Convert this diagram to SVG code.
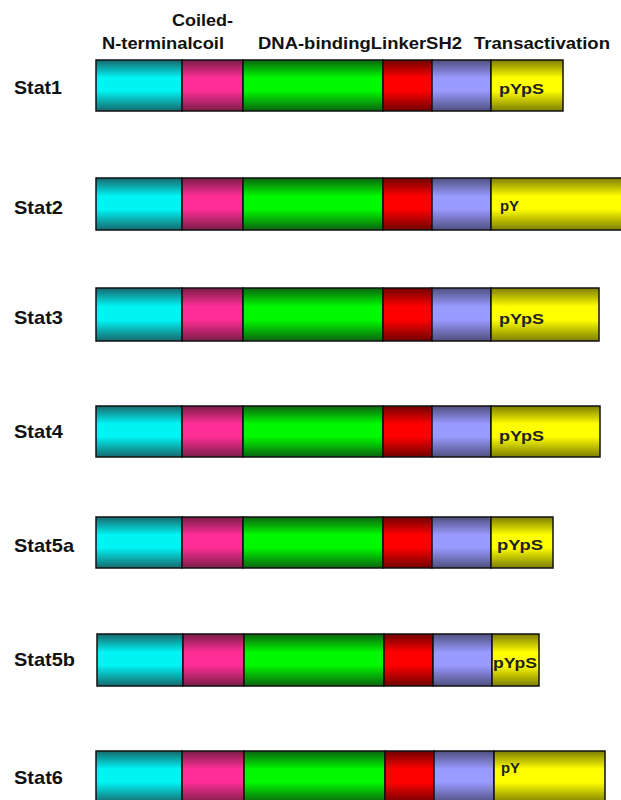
<svg xmlns="http://www.w3.org/2000/svg" width="621" height="800" viewBox="0 0 621 800">
  <defs>
    <!-- vertical shading: dark rim at top and bottom, bright band in the middle -->
    <linearGradient id="gCyan" x1="0" y1="0" x2="0" y2="1">
      <stop offset="0" stop-color="#16696e"/><stop offset="0.35" stop-color="#00f4f4"/><stop offset="0.6" stop-color="#00f4f4"/><stop offset="1" stop-color="#16696e"/>
    </linearGradient>
    <linearGradient id="gMag" x1="0" y1="0" x2="0" y2="1">
      <stop offset="0" stop-color="#7a1d48"/><stop offset="0.35" stop-color="#ff2e96"/><stop offset="0.6" stop-color="#ff2e96"/><stop offset="1" stop-color="#7a1d48"/>
    </linearGradient>
    <linearGradient id="gGreen" x1="0" y1="0" x2="0" y2="1">
      <stop offset="0" stop-color="#0b6410"/><stop offset="0.35" stop-color="#00f800"/><stop offset="0.6" stop-color="#00f800"/><stop offset="1" stop-color="#0b6410"/>
    </linearGradient>
    <linearGradient id="gRed" x1="0" y1="0" x2="0" y2="1">
      <stop offset="0" stop-color="#700000"/><stop offset="0.35" stop-color="#ff0000"/><stop offset="0.6" stop-color="#ff0000"/><stop offset="1" stop-color="#700000"/>
    </linearGradient>
    <linearGradient id="gLav" x1="0" y1="0" x2="0" y2="1">
      <stop offset="0" stop-color="#4f4f80"/><stop offset="0.35" stop-color="#9a9aff"/><stop offset="0.6" stop-color="#9a9aff"/><stop offset="1" stop-color="#4f4f80"/>
    </linearGradient>
    <linearGradient id="gYel" x1="0" y1="0" x2="0" y2="1">
      <stop offset="0" stop-color="#7d7d00"/><stop offset="0.35" stop-color="#ffff00"/><stop offset="0.6" stop-color="#ffff00"/><stop offset="1" stop-color="#7d7d00"/>
    </linearGradient>
  </defs>
  <style>
    rect { stroke: #111; stroke-width: 1.5; }
    .cy { fill: url(#gCyan); }
    .mg { fill: url(#gMag); }
    .gr { fill: url(#gGreen); }
    .rd { fill: url(#gRed); }
    .lv { fill: url(#gLav); }
    .yl { fill: url(#gYel); }
    text { font-family: "Liberation Sans", Arial, sans-serif; font-weight: bold; fill: #111; }
    .hdr { font-size: 16.5px; }
    .lbl { font-size: 19px; }
    .site { font-size: 15.5px; fill: #222; }
  </style>

  <!-- domain headings -->
  <g id="headers">
    <text class="hdr" x="172" y="26" textLength="61" lengthAdjust="spacingAndGlyphs">Coiled-</text>
    <text class="hdr" x="102" y="49" textLength="122" lengthAdjust="spacingAndGlyphs">N-terminalcoil</text>
    <text class="hdr" x="258" y="49" textLength="204" lengthAdjust="spacingAndGlyphs">DNA-bindingLinkerSH2</text>
    <text class="hdr" x="474" y="49" textLength="136" lengthAdjust="spacingAndGlyphs">Transactivation</text>
  </g>

  <!-- Stat1 -->
  <g id="stat1">
    <text class="lbl" x="14" y="94" textLength="48" lengthAdjust="spacingAndGlyphs">Stat1</text>
    <rect class="cy" x="96" y="60" width="86" height="51"/>
    <rect class="mg" x="182" y="60" width="61" height="51"/>
    <rect class="gr" x="243" y="60" width="140" height="51"/>
    <rect class="rd" x="383" y="60" width="49" height="51"/>
    <rect class="lv" x="432" y="60" width="59" height="51"/>
    <rect class="yl" x="491" y="60" width="72" height="51"/>
    <text class="site" x="499" y="94" textLength="45" lengthAdjust="spacingAndGlyphs">pYpS</text>
  </g>

  <!-- Stat2 -->
  <g id="stat2">
    <text class="lbl" x="14" y="214" textLength="49" lengthAdjust="spacingAndGlyphs">Stat2</text>
    <rect class="cy" x="96" y="178" width="86" height="52"/>
    <rect class="mg" x="182" y="178" width="61" height="52"/>
    <rect class="gr" x="243" y="178" width="140" height="52"/>
    <rect class="rd" x="383" y="178" width="49" height="52"/>
    <rect class="lv" x="432" y="178" width="59" height="52"/>
    <rect class="yl" x="491" y="178" width="140" height="52"/>
    <text class="site" x="500" y="211" textLength="19" lengthAdjust="spacingAndGlyphs">pY</text>
  </g>

  <!-- Stat3 -->
  <g id="stat3">
    <text class="lbl" x="14" y="324" textLength="49" lengthAdjust="spacingAndGlyphs">Stat3</text>
    <rect class="cy" x="96" y="288" width="86" height="53"/>
    <rect class="mg" x="182" y="288" width="61" height="53"/>
    <rect class="gr" x="243" y="288" width="140" height="53"/>
    <rect class="rd" x="383" y="288" width="49" height="53"/>
    <rect class="lv" x="432" y="288" width="59" height="53"/>
    <rect class="yl" x="491" y="288" width="108" height="53"/>
    <text class="site" x="499" y="324" textLength="45" lengthAdjust="spacingAndGlyphs">pYpS</text>
  </g>

  <!-- Stat4 -->
  <g id="stat4">
    <text class="lbl" x="14" y="438" textLength="49" lengthAdjust="spacingAndGlyphs">Stat4</text>
    <rect class="cy" x="96" y="406" width="86" height="51"/>
    <rect class="mg" x="182" y="406" width="61" height="51"/>
    <rect class="gr" x="243" y="406" width="140" height="51"/>
    <rect class="rd" x="383" y="406" width="49" height="51"/>
    <rect class="lv" x="432" y="406" width="59" height="51"/>
    <rect class="yl" x="491" y="406" width="109" height="51"/>
    <text class="site" x="499" y="441" textLength="45" lengthAdjust="spacingAndGlyphs">pYpS</text>
  </g>

  <!-- Stat5a -->
  <g id="stat5a">
    <text class="lbl" x="14" y="552" textLength="60" lengthAdjust="spacingAndGlyphs">Stat5a</text>
    <rect class="cy" x="96" y="517" width="86" height="51"/>
    <rect class="mg" x="182" y="517" width="61" height="51"/>
    <rect class="gr" x="243" y="517" width="140" height="51"/>
    <rect class="rd" x="383" y="517" width="49" height="51"/>
    <rect class="lv" x="432" y="517" width="59" height="51"/>
    <rect class="yl" x="491" y="517" width="62" height="51"/>
    <text class="site" x="497" y="550" textLength="46" lengthAdjust="spacingAndGlyphs">pYpS</text>
  </g>

  <!-- Stat5b -->
  <g id="stat5b">
    <text class="lbl" x="14" y="666" textLength="61" lengthAdjust="spacingAndGlyphs">Stat5b</text>
    <rect class="cy" x="97" y="634" width="86" height="52"/>
    <rect class="mg" x="183" y="634" width="61" height="52"/>
    <rect class="gr" x="244" y="634" width="140" height="52"/>
    <rect class="rd" x="384" y="634" width="49" height="52"/>
    <rect class="lv" x="433" y="634" width="59" height="52"/>
    <rect class="yl" x="492" y="634" width="47" height="52"/>
    <text class="site" x="493" y="668" textLength="44" lengthAdjust="spacingAndGlyphs">pYpS</text>
  </g>

  <!-- Stat6 -->
  <g id="stat6">
    <text class="lbl" x="14" y="784" textLength="49" lengthAdjust="spacingAndGlyphs">Stat6</text>
    <rect class="cy" x="96" y="751" width="86" height="52"/>
    <rect class="mg" x="182" y="751" width="62" height="52"/>
    <rect class="gr" x="244" y="751" width="141" height="52"/>
    <rect class="rd" x="385" y="751" width="49" height="52"/>
    <rect class="lv" x="434" y="751" width="60" height="52"/>
    <rect class="yl" x="494" y="751" width="111" height="52"/>
    <text class="site" x="501" y="773" textLength="19" lengthAdjust="spacingAndGlyphs">pY</text>
  </g>
</svg>
